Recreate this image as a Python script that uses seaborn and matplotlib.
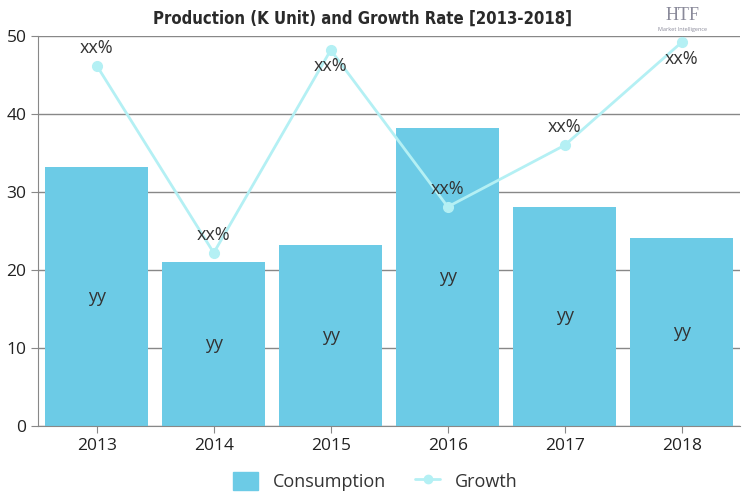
import numpy as np
import pandas as pd
import seaborn as sns
import matplotlib.pyplot as plt

years = ['2013', '2014', '2015', '2016', '2017', '2018']
consumption = [33.2, 21.0, 23.2, 38.2, 28.1, 24.1]
growth = [46.2, 22.2, 48.2, 28.1, 36.0, 49.2]
bar_labels = ['yy'] * 6
point_labels = ['xx%'] * 6

sns.set_style('white')
plt.rcParams['font.family'] = ['Open Sans', 'DejaVu Sans']

df = pd.DataFrame({'year': years, 'consumption': consumption, 'growth': growth})

fig = plt.figure(figsize=(7.5, 5), dpi=100)
ax = fig.add_axes([0.051, 0.148, 0.936, 0.78])

bar_color = '#6ccbe6'
line_color = '#b4f0f4'

sns.barplot(x='year', y='consumption', data=df, color=bar_color, width=0.88,
            saturation=1, ax=ax, zorder=2, linewidth=0)
ax.plot(range(len(years)), growth, color=line_color, lw=2, marker='o', ms=7,
        zorder=4)

for i, v in enumerate(consumption):
    ax.text(i, v / 2, bar_labels[i], ha='center', va='center', fontsize=13,
            color='#333333', zorder=5)
for i, v in enumerate(growth):
    if v > 47:
        y = v - 2.1
    else:
        y = v + 2.3
    ax.text(i, y, point_labels[i], ha='center', va='center', fontsize=13,
            color='#333333', zorder=5)

ax.set_ylim(0, 50)
ax.set_xlim(-0.5, 5.5)
ax.set_yticks([0, 10, 20, 30, 40, 50])
ax.yaxis.grid(True, color='#888888', lw=1)
ax.set_axisbelow(True)
for s in ['top', 'right']:
    ax.spines[s].set_visible(False)
for s in ['left', 'bottom']:
    ax.spines[s].set_color('#888888')
ax.tick_params(axis='both', length=5, color='#888888', labelsize=12.5,
               labelcolor='#222222', direction='out', bottom=True, left=True)
ax.set_xlabel('')
ax.set_ylabel('')

fig.text(0.483, 0.963, 'Production (K Unit) and Growth Rate [2013-2018]',
         ha='center', va='center', fontsize=12, fontweight='heavy',
         fontstretch='condensed', family=['DejaVu Sans'], color='#2a2a2a')
fig.text(0.91, 0.968, 'HTF', ha='center', va='center', fontsize=13,
         color='#8a8a9a', family=['Liberation Serif', 'DejaVu Serif'])
fig.text(0.91, 0.94, 'Market Intelligence', ha='center', va='center',
         fontsize=4, color='#8a8a9a')

h_bar = plt.Rectangle((0, 0), 1, 1, color=bar_color)
h_line = plt.Line2D([], [], color=line_color, lw=2, marker='o', ms=6)
ax.legend([h_bar, h_line], ['Consumption', 'Growth'], loc='upper center',
          bbox_to_anchor=(0.48, -0.075), ncol=2, frameon=False, fontsize=13,
          handlelength=1.4, handleheight=1.2, columnspacing=1.6,
          labelcolor='#333333')

fig.savefig('out.png', dpi=100)
